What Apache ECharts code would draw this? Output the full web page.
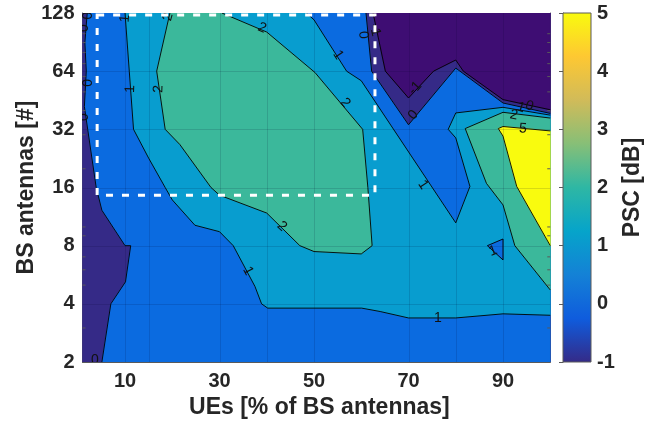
<!DOCTYPE html>
<html><head><meta charset="utf-8">
<script src="https://cdn.jsdelivr.net/npm/echarts@6/dist/echarts.min.js"></script>
<style>html,body{margin:0;padding:0;background:#fff}#c{width:662px;height:424px}</style>
</head><body><div id="c"></div>
<script>
// ---------- data ----------
const xTicks = [10, 30, 50, 70, 90];
const yTicks = [2, 4, 8, 16, 32, 64, 128];
const yMinorTicks = [3, 5, 6, 7, 9, 10, 20, 30, 40, 50, 60, 70, 80, 90, 100];
const colorbarTicks = [-1, 0, 1, 2, 3, 4, 5];
const gridXs = [10, 15, 30, 40, 50, 70, 80, 90];
const gridYs = [4, 8, 16, 32, 64];
const contourLevels = [-1, 0, 1, 2, 5];
const xRange = [1, 100];
const yRange = [2, 128];

// contour regions, [UEs %, BS antennas]
const regionBelowMinus1 = [[62.5,128],[65.1,64],[70,46.5],[75.3,64],[80,73.1],[81.6,64],[90,45.6],[100,40.4],[100,128]];
const regionAtLeast0 = [[2.0,128],[1.5,90],[1.8,64],[1.4,42],[2.1,32],[3.9,16],[5.1,12.2],[10,8],[11.2,8],[10.1,5.2],[7.0,4],[5.1,2],
  [100,2],[100,38.7],[90,43.8],[80,66.4],[70,33.8],[62.2,64],[61,128]];
const regionAtLeast1 = [[10,128],[10.9,64],[11.8,32],[15,22.7],[18.5,16],[20,13.8],[24.8,10.2],[30,9.45],[32.9,8],[37.5,4.92],[38.9,4],
  [40.2,3.8],[60.1,3.8],[64,3.65],[70,3.38],[80,3.38],[90,3.55],[100,3.49],[100,37.9],[90,41.6],[80,38.9],[78.4,32],[80,28.9],
  [83,16.2],[80,10.5],[60,57.1],[56.9,64],[50,118],[48.4,128]];
const holeBelow1 = [[86.7,8],[90,8.66],[90,6.75]];
const regionAtLeast2Center = [[19.5,128],[30.5,128],[40,102],[50.2,63],[60.3,32],[61.4,16],[62.3,8],[60,7.25],[50,7.46],[47,8],
  [40,11.8],[30,14.6],[28.2,16],[21.6,26.7],[18.5,32],[16.7,64]];
const regionAtLeast2Right = [[100,36.6],[90,39.2],[82,32.3],[86.5,16.8],[90,13],[92.5,8],[100,4.72]];
const regionAtLeast5 = [[89,32.3],[90,33.1],[100,31.4],[100,8],[92.9,16.2],[90,29.5]];

// contour labels: [x, y, text, angle in degrees]
const contourLabels = [
  [2.2,124,'0',90],[1.3,107,'0',90],[2.2,55.6,'0',90],[1.3,37,'0',90],[3.6,2.05,'0',0],
  [10,120,'1',85],[11.1,51.7,'1',88],
  [19.1,122,'2',75],[17.1,51.7,'2',88],
  [39,107,'2',-23],[56.6,43.8,'2',-49],[43.2,10.06,'2',-43],
  [36,5.92,'1',-62],[55.1,77.6,'1',-57],
  [60.4,98.5,'0',-84],[62.9,104.5,'-1',-77],
  [71.4,52.4,'-1',48],[71,38,'0',50],
  [73.1,16.5,'1',-56],
  [93.8,41.5,'1',-18],[95.6,42.2,'0',-18],[92.3,38,'2',-12],[94.2,32.3,'5',-4],
  [76.2,3.38,'1',0],[87.9,7.5,'1',20]
];
const highlightBox = [4.1, 62.9, 14.6, 125];

// ---------- styling ----------
const parula = ['#352a87','#0f5cdd','#1481d6','#06a4ca','#2eb7a4','#87bf77','#d1bb59','#fec832','#f9fb0e'];
const fillBelow = '#3e0d73';
const levelColors = {'-1':'#352a87', '0':'#0b6be0', '1':'#089dcf', '2':'#3bb89b', '5':'#f9fb0e'};
const FONT = '"Liberation Sans", Arial, Helvetica, sans-serif';
const TXT = '#262626';
const AX = '#5a5a5a';

const plotFrame = [[xRange[0],yRange[0]],[xRange[1],yRange[0]],[xRange[1],yRange[1]],[xRange[0],yRange[1]]];
const layers = [
  {pts: plotFrame, fill: levelColors['-1']},
  {pts: regionBelowMinus1, fill: fillBelow},
  {pts: regionAtLeast0, fill: levelColors['0']},
  {pts: regionAtLeast1, fill: levelColors['1']},
  {pts: holeBelow1, fill: levelColors['0']},
  {pts: regionAtLeast2Center, fill: levelColors['2']},
  {pts: regionAtLeast2Right, fill: levelColors['2']},
  {pts: regionAtLeast5, fill: levelColors['5']}
];
const lineLayers = layers.slice(1);

function sides(p){
  const s=[];
  if (Math.abs(p[0]-xRange[0])<1e-6) s.push('L');
  if (Math.abs(p[0]-xRange[1])<1e-6) s.push('R');
  if (Math.abs(p[1]-yRange[0])<1e-6) s.push('B');
  if (Math.abs(p[1]-yRange[1])<1e-6) s.push('T');
  return s;
}
function onFrame(a,b){ const sa=sides(a), sb=sides(b); return sa.some(s=>sb.includes(s)); }
function strokeRuns(pts){
  const n=pts.length, runs=[];
  const skip=i=>onFrame(pts[i], pts[(i+1)%n]);
  let start=-1;
  for(let i=0;i<n;i++){ if(skip(i)){start=i;break;} }
  if(start<0) return [pts.concat([pts[0]])];
  let cur=null;
  for(let k=1;k<=n;k++){
    const i=(start+k)%n;
    if(skip(i)){ if(cur){runs.push(cur);cur=null;} }
    else { if(!cur) cur=[pts[i]]; cur.push(pts[(i+1)%n]); }
  }
  if(cur) runs.push(cur);
  return runs;
}

const chart = echarts.init(document.getElementById('c'), null, {renderer:'canvas'});
const axisCommon = {
  axisLine:{show:true, lineStyle:{color:AX, width:1}},
  splitLine:{show:false}
};
chart.setOption({
  animation:false,
  backgroundColor:'#fff',
  grid:[
    {left:82.5, right:111.75, top:13, bottom:62, containLabel:false},
    {left:563, width:28, top:13, bottom:62, containLabel:false}
  ],
  xAxis:[
    Object.assign({}, axisCommon, {type:'value', gridIndex:0, min:xRange[0], max:xRange[1], position:'bottom',
      axisTick:{show:true, inside:true, length:5, lineStyle:{color:AX}, customValues:xTicks},
      axisLabel:{show:true, customValues:xTicks, margin:9, color:TXT, fontFamily:FONT, fontWeight:'bold', fontSize:20},
      name:'UEs [% of BS antennas]', nameLocation:'middle', nameGap:31,
      nameTextStyle:{color:TXT, fontFamily:FONT, fontWeight:'bold', fontSize:23, padding:[0,0,0,6]}}),
    Object.assign({}, axisCommon, {type:'value', gridIndex:0, min:xRange[0], max:xRange[1], position:'top',
      axisTick:{show:true, inside:true, length:5, lineStyle:{color:AX}, customValues:xTicks},
      axisLabel:{show:false, customValues:xTicks}}),
    {type:'value', gridIndex:1, min:0, max:1, show:false}
  ],
  yAxis:[
    Object.assign({}, axisCommon, {type:'log', logBase:2, gridIndex:0, min:yRange[0], max:yRange[1], interval:1, position:'left',
      axisTick:{show:true, inside:true, length:5, lineStyle:{color:AX}},
      axisLabel:{show:true, margin:8, color:TXT, fontFamily:FONT, fontWeight:'bold', fontSize:20},
      name:'BS antennas [#]', nameLocation:'middle', nameGap:44, nameRotate:90, nameMoveOverlap:false,
      nameTextStyle:{color:TXT, fontFamily:FONT, fontWeight:'bold', fontSize:23}}),
    Object.assign({}, axisCommon, {type:'log', logBase:2, gridIndex:0, min:yRange[0], max:yRange[1], interval:1, position:'right',
      axisTick:{show:true, inside:true, length:5, lineStyle:{color:AX}},
      axisLabel:{show:false}}),
    Object.assign({}, axisCommon, {type:'value', gridIndex:1, min:colorbarTicks[0], max:colorbarTicks[colorbarTicks.length-1], interval:1, position:'right',
      axisTick:{show:true, inside:true, length:4, lineStyle:{color:AX}},
      axisLabel:{show:true, margin:6, color:TXT, fontFamily:FONT, fontWeight:'bold', fontSize:20},
      name:'PSC [dB]', nameLocation:'middle', nameGap:30, nameRotate:90,
      nameTextStyle:{color:TXT, fontFamily:FONT, fontWeight:'bold', fontSize:23}})
  ],
  series:[
    { // filled contour regions
      type:'custom', xAxisIndex:0, yAxisIndex:0, clip:true, z:1, silent:true,
      data: layers.map((l,i)=>[i]),
      encode:{x:-1, y:-1},
      renderItem:(params, api)=>{
        const L = layers[params.dataIndex];
        return {type:'polygon', shape:{points:L.pts.map(p=>api.coord(p))},
          style:{fill:L.fill, stroke:L.fill, lineWidth:0.6}};
      }
    },
    { // faint grid lines
      type:'custom', xAxisIndex:0, yAxisIndex:0, clip:true, z:2, silent:true,
      data:[[0]], encode:{x:-1, y:-1},
      renderItem:(params, api)=>{
        const ch=[];
        gridXs.forEach(x=>{const a=api.coord([x,yRange[0]]), b=api.coord([x,yRange[1]]);
          ch.push({type:'line', shape:{x1:Math.round(a[0])+0.5,y1:a[1],x2:Math.round(b[0])+0.5,y2:b[1]}, style:{stroke:'rgba(0,0,40,0.13)', lineWidth:1}});});
        gridYs.forEach(y=>{const a=api.coord([xRange[0],y]), b=api.coord([xRange[1],y]);
          ch.push({type:'line', shape:{x1:a[0],y1:Math.round(a[1])+0.5,x2:b[0],y2:Math.round(b[1])+0.5}, style:{stroke:'rgba(0,0,40,0.13)', lineWidth:1}});});
        return {type:'group', children:ch};
      }
    },
    { // contour lines
      type:'custom', xAxisIndex:0, yAxisIndex:0, clip:true, z:3, silent:true,
      data: lineLayers.map((l,i)=>[i]), encode:{x:-1, y:-1},
      renderItem:(params, api)=>{
        const L = lineLayers[params.dataIndex];
        const runs = strokeRuns(L.pts);
        return {type:'group', children: runs.map(r=>({type:'polyline', shape:{points:r.map(p=>api.coord(p))},
          style:{stroke:'#000', lineWidth:0.9, fill:null}}))};
      }
    },
    { // contour labels
      type:'custom', xAxisIndex:0, yAxisIndex:0, clip:true, z:4, silent:true,
      data: contourLabels.map((l,i)=>[i]), encode:{x:-1, y:-1},
      renderItem:(params, api)=>{
        const L = contourLabels[params.dataIndex];
        const p = api.coord([L[0], L[1]]);
        return {type:'text', x:p[0], y:p[1], rotation:L[3]*Math.PI/180,
          style:{text:L[2], fill:'#111', font:'14px '+FONT, align:'center', verticalAlign:'middle'}};
      }
    },
    { // white dashed box + minor ticks
      type:'custom', xAxisIndex:0, yAxisIndex:0, clip:false, z:5, silent:true,
      data:[[0]], encode:{x:-1, y:-1},
      renderItem:(params, api)=>{
        const a = api.coord([highlightBox[0], highlightBox[3]]);
        const b = api.coord([highlightBox[1], highlightBox[2]]);
        const ch = [{type:'rect', shape:{x:a[0], y:a[1], width:b[0]-a[0], height:b[1]-a[1]},
          style:{fill:null, stroke:'#fff', lineWidth:3, lineDash:[7,9]}}];
        const xl = api.coord([xRange[0], yRange[0]])[0], xr = api.coord([xRange[1], yRange[0]])[0];
        yMinorTicks.forEach(v=>{ const y = api.coord([xRange[0], v])[1];
          ch.push({type:'line', shape:{x1:xl, y1:y, x2:xl+3, y2:y}, style:{stroke:AX, lineWidth:1}});
          ch.push({type:'line', shape:{x1:xr, y1:y, x2:xr-3, y2:y}, style:{stroke:AX, lineWidth:1}});
        });
        return {type:'group', children:ch};
      }
    },
    { // colorbar
      type:'custom', xAxisIndex:2, yAxisIndex:2, clip:false, z:1, silent:true,
      data:[[0]], encode:{x:-1, y:-1},
      renderItem:(params, api)=>{
        const a = api.coord([0, colorbarTicks[colorbarTicks.length-1]]);
        const b = api.coord([1, colorbarTicks[0]]);
        const stops = parula.map((c,i)=>({offset:i/(parula.length-1), color:c}));
        return {type:'rect', shape:{x:a[0], y:a[1], width:b[0]-a[0], height:b[1]-a[1]},
          style:{fill:new echarts.graphic.LinearGradient(0,1,0,0,stops), stroke:AX, lineWidth:1}};
      }
    }
  ]
});
</script></body></html>
